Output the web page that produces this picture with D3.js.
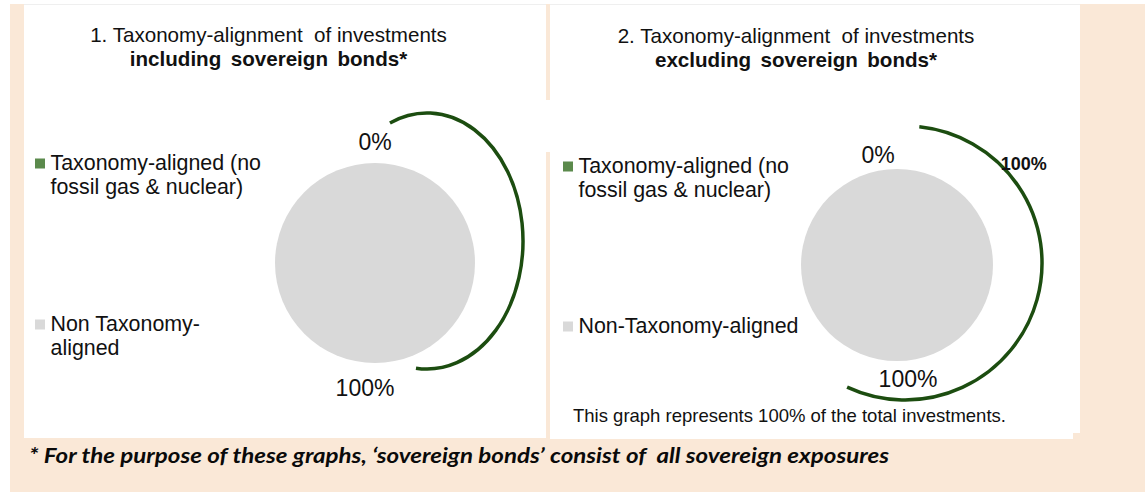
<!DOCTYPE html>
<html>
<head>
<meta charset="utf-8">
<script src="https://cdn.jsdelivr.net/npm/d3@7"></script>
<style>
  html, body { margin: 0; padding: 0; background: #ffffff; }
  svg text { white-space: pre; }
</style>
</head>
<body>
<svg id="chart" width="1145" height="492"></svg>
<script>
// ---------------- DATA ----------------
const categories = ["Taxonomy-aligned (no fossil gas & nuclear)", "Non Taxonomy-aligned"];
const includingSovereignValues = [0, 100];   // %
const excludingSovereignValues = [0, 100];   // %
const chartTitles = [
  ["1. Taxonomy-alignment  of investments", "including  sovereign  bonds*"],
  ["2. Taxonomy-alignment  of investments", "excluding  sovereign  bonds*"]
];
const legendLabels = [
  [["Taxonomy-aligned (no", "fossil gas & nuclear)"], ["Non Taxonomy-", "aligned"]],
  [["Taxonomy-aligned (no", "fossil gas & nuclear)"], ["Non-Taxonomy-aligned"]]
];
const arcLabel = "100%";
const captionText = "This graph represents 100% of the total investments.";
const footnoteText = "* For the purpose of these graphs, \u2018sovereign bonds\u2019 consist of  all sovereign exposures";

// ---------------- STYLE / LAYOUT ----------------
const colors = ["#5b8a4c", "#d9d9d9"];
const arcColor = "#1c4d10";
const peach = "#fae8d7";
const fontMain = "'Liberation Sans', Arial, sans-serif";

const panels = [
  { x: 24, y: 4, w: 522, h: 434, titleCx: 268.5, titleY: [42, 66],
    pie: { cx: 375, cy: 263, r: 100 },
    labelPad: [21, 25], labelDx: [0, -10],
    legendX: 35, legendBase: [[170, 194], [331, 355]],
    arc: { cx: 427, cy: 241, rx: 96, ry: 128, a0: -22.7, a1: 186.6 } },
  { x: 550, y: 4, w: 530, h: 435, titleCx: 796, titleY: [43, 67],
    pie: { cx: 897, cy: 265, r: 96 },
    labelPad: [14, 18], labelDx: [-19, 11],
    legendX: 563, legendBase: [[173, 197], [333]],
    arc: { cx: 905, cy: 263, rx: 137, ry: 137, a0: 6, a1: 205 },
    arcLabelAngle: 50, arcLabelPad: 18 }
];
const datasets = [includingSovereignValues, excludingSovereignValues];

const svg = d3.select("#chart");

// background
svg.append("rect").attr("x", 10).attr("y", 4).attr("width", 1135).attr("height", 488).attr("fill", peach);

// panels
panels.forEach(p => {
  svg.append("rect").attr("x", p.x).attr("y", p.y).attr("width", p.w).attr("height", p.h).attr("fill", "#ffffff");
  svg.append("line").attr("x1", p.x).attr("x2", p.x + p.w).attr("y1", p.y + 0.5).attr("y2", p.y + 0.5)
    .attr("stroke", "#efefef").attr("stroke-width", 1);
});
// white bridge between panels
svg.append("rect").attr("x", 546).attr("y", 100).attr("width", 4).attr("height", 52).attr("fill", "#ffffff");
// notch at bottom right of right panel
svg.append("rect").attr("x", 1073).attr("y", 433).attr("width", 7).attr("height", 6).attr("fill", peach);

const fmt = d => d3.format(".0f")(d) + "%";
const pie = d3.pie().sort(null).value(d => d);

panels.forEach((p, i) => {
  const g = svg.append("g");
  // titles
  g.append("text").attr("x", p.titleCx).attr("y", p.titleY[0]).attr("text-anchor", "middle")
    .attr("font-family", fontMain).attr("font-size", 20.6).attr("fill", "#111").text(chartTitles[i][0]);
  g.append("text").attr("x", p.titleCx).attr("y", p.titleY[1]).attr("text-anchor", "middle")
    .attr("font-family", fontMain).attr("font-size", 20.6).attr("font-weight", "bold")
    .attr("word-spacing", -1).attr("fill", "#111").text(chartTitles[i][1]);

  // legend
  legendLabels[i].forEach((lines, k) => {
    const base = p.legendBase[k];
    g.append("rect").attr("x", p.legendX).attr("y", base[0] - 11.5).attr("width", 10).attr("height", 10).attr("fill", colors[k]);
    lines.forEach((ln, j) => {
      g.append("text").attr("x", p.legendX + 15.5).attr("y", base[j]).attr("font-family", fontMain)
        .attr("font-size", 21.4).attr("fill", "#111").text(ln);
    });
  });

  // pie
  const arcs = pie(datasets[i]);
  const arcGen = d3.arc().innerRadius(0).outerRadius(p.pie.r);
  const pg = g.append("g").attr("transform", `translate(${p.pie.cx},${p.pie.cy})`);
  pg.selectAll("path").data(arcs).join("path").attr("d", arcGen).attr("fill", (d, k) => colors[k]);

  // data labels
  arcs.forEach((d, k) => {
    const mid = (d.startAngle + d.endAngle) / 2;
    const rr = p.pie.r + p.labelPad[k];
    pg.append("text")
      .attr("x", rr * Math.sin(mid) + p.labelDx[k])
      .attr("y", -rr * Math.cos(mid))
      .attr("dy", "0.36em")
      .attr("text-anchor", "middle")
      .attr("font-family", fontMain).attr("font-size", 23).attr("fill", "#111")
      .text(fmt(d.data));
  });

  // decorative leader arc
  const a = p.arc;
  const path = d3.path();
  const rad = deg => deg * Math.PI / 180;
  path.arc(0, 0, 1, rad(a.a0) - Math.PI / 2, rad(a.a1) - Math.PI / 2, false);
  g.append("path").attr("d", path.toString())
    .attr("transform", `translate(${a.cx},${a.cy}) scale(${a.rx},${a.ry})`)
    .attr("fill", "none").attr("stroke", arcColor).attr("stroke-width", 3.5)
    .attr("vector-effect", "non-scaling-stroke");

  if (p.arcLabelAngle !== undefined) {
    const t = rad(p.arcLabelAngle);
    const rr = a.rx + p.arcLabelPad;
    g.append("text").attr("x", a.cx + rr * Math.sin(t)).attr("y", a.cy - rr * Math.cos(t))
      .attr("dy", "0.36em").attr("text-anchor", "middle")
      .attr("font-family", fontMain).attr("font-size", 18).attr("font-weight", "bold").attr("fill", "#111")
      .text(arcLabel);
  }
});

// caption
svg.append("text").attr("x", 573).attr("y", 422).attr("font-family", fontMain).attr("font-size", 18.5)
  .attr("fill", "#111").text(captionText);

// footnote
svg.append("text").attr("x", 29).attr("y", 463)
  .attr("font-family", "Lato, 'Open Sans', sans-serif").attr("font-size", 21)
  .attr("font-weight", "bold").attr("font-style", "italic").attr("fill", "#0a0a0a")
  .attr("textLength", 860).attr("lengthAdjust", "spacingAndGlyphs")
  .text(footnoteText);
</script>
</body>
</html>
